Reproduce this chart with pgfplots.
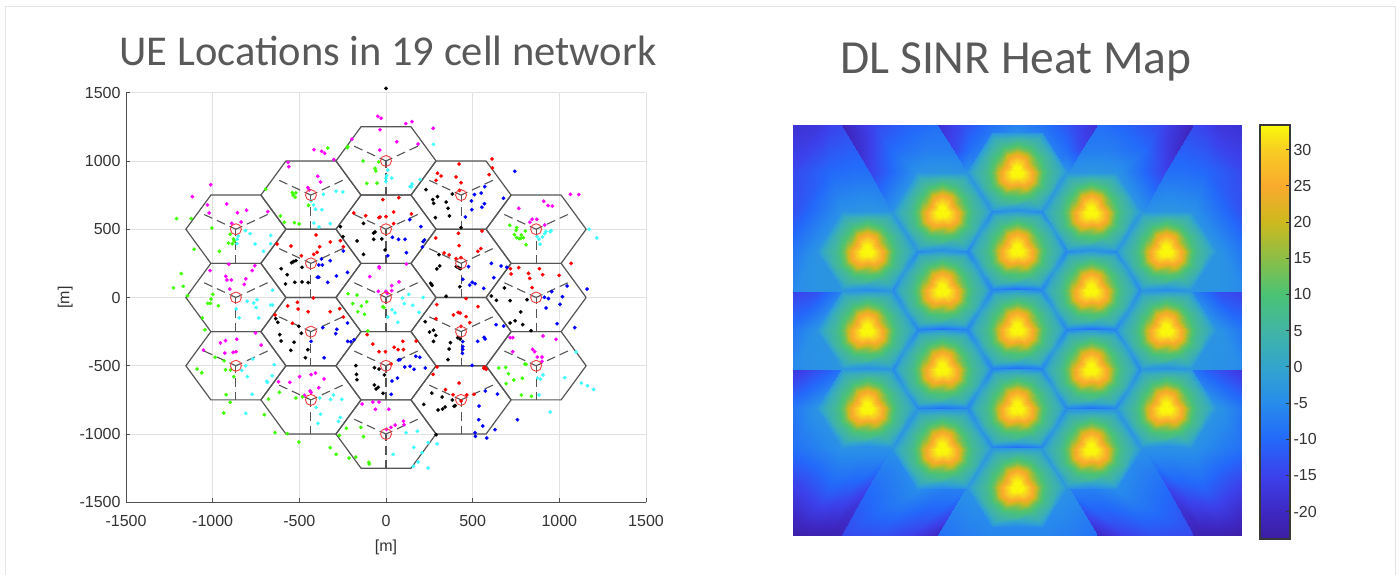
\documentclass[border=0pt]{standalone}
\usepackage{pgfplots}
\usepackage{pgfplotstable}
\usepackage{fontspec}
\setmainfont{Liberation Sans}
\newfontfamily\titlefont{Carlito}
\pgfplotsset{compat=1.18}
\definecolor{titlegray}{HTML}{595959}
\definecolor{tickgray}{HTML}{333333}
\definecolor{axgray}{HTML}{505050}
\definecolor{gridgray}{HTML}{E2E2E2}
\definecolor{hexgray}{HTML}{555555}
\definecolor{uegreen}{RGB}{64,255,0}
\definecolor{uecyan}{RGB}{64,255,255}
\definecolor{uemag}{RGB}{255,0,255}
\definecolor{bsred}{RGB}{240,60,60}
\pgfplotsset{colormap={sinr}{
rgb255(0cm)=(60,30,160); rgb255(3.8cm)=(62,40,195); rgb255(8.8cm)=(60,65,235);
rgb255(13.8cm)=(35,105,250); rgb255(18.8cm)=(40,140,235); rgb255(23.8cm)=(50,165,205);
rgb255(28.8cm)=(65,180,165); rgb255(33.8cm)=(75,195,115); rgb255(38.8cm)=(140,190,70);
rgb255(43.8cm)=(205,185,30); rgb255(48.8cm)=(250,170,45); rgb255(53.8cm)=(248,205,35);
rgb255(57.2cm)=(250,250,10)}}
\pgfplotstableread{
x y
288.7 0
144.3 250
-144.3 250
-288.7 0
-144.3 -250
144.3 -250
288.7 0
}\hextab
\pgfplotstableread{
x y
0 0
-190 112
}\secA
\pgfplotstableread{
x y
0 0
190 112
}\secB
\pgfplotstableread{
x y
0 0
0 -250
}\secC
\pgfplotstableread{
x y
0 0
0 500
0 1000
0 -500
0 -1000
433 250
433 750
433 -250
433 -750
-433 250
-433 750
-433 -250
-433 -750
866 0
866 500
866 -500
-866 0
-866 500
-866 -500
}\bstab
\pgfplotstableread{
x y c p
0 0 33.4 33.4
0 0 33.4 33.4
0 0 33.4 33.4
0 0 33.4 33.4
0 0 33.4 33.4
0 0 33.4 33.4
0 0 33.4 33.4
0 0 33.4 33.4
0 0 33.4 33.4
0 0 33.4 33.4
0 0 33.4 33.4
0 0 33.4 33.4
0 0 33.4 33.4
6 0 33 33
5.2 3 32 32
3 5.2 33 33
0 6 33 33
-3 5.2 33 33
-5.2 3 32 32
-6 0 33 33
-5.2 -3 33 33
-3 -5.2 33 33
0 -6 32 32
3 -5.2 33 33
5.2 -3 33 33
6 0 33 33
12 0 29 29
10.4 6 25.5 25.5
6 10.4 29 29
0 12 30 30
-6 10.4 29 29
-10.4 6 25.5 25.5
-12 0 29 29
-10.4 -6 30 30
-6 -10.4 29 29
0 -12 25.5 25.5
6 -10.4 29 29
10.4 -6 30 30
12 0 29 29
18 0 21.5 21.5
15.6 9 15.5 15.5
9 15.6 21.5 21.5
0 18 23.5 23.5
-9 15.6 21.5 21.5
-15.6 9 15.5 15.5
-18 0 21.5 21.5
-15.6 -9 23.5 23.5
-9 -15.6 21.5 21.5
0 -18 15.5 15.5
9 -15.6 21.5 21.5
15.6 -9 23.5 23.5
18 0 21.5 21.5
24 0 12.5 12.5
20.8 12 10.5 10.5
12 20.8 12.5 12.5
0 24 13.5 13.5
-12 20.8 12.5 12.5
-20.8 12 10.5 10.5
-24 0 12.5 12.5
-20.8 -12 13.5 13.5
-12 -20.8 12.5 12.5
0 -24 10.5 10.5
12 -20.8 12.5 12.5
20.8 -12 13.5 13.5
24 0 12.5 12.5
30 0 7.5 7.5
26 15 7 7
15 26 7.5 7.5
0 30 8 8
-15 26 7.5 7.5
-26 15 7 7
-30 0 7.5 7.5
-26 -15 8 8
-15 -26 7.5 7.5
0 -30 7 7
15 -26 7.5 7.5
26 -15 8 8
30 0 7.5 7.5
43.3 0 2 2
32.5 17.1 3 3
21.7 34.3 2 2
0 34.3 4 4
-21.7 34.3 2 2
-32.5 17.1 3 3
-43.3 0 2 2
-32.5 -17.1 4.5 4.5
-21.7 -34.3 2 2
0 -34.3 0 0
21.7 -34.3 2 2
32.5 -17.1 4.5 4.5
43.3 0 2 2
49.8 0 -6 -3
37.35 19.7 -2 -2.5
24.9 39.4 -6 -3
0 39.4 -2 -2.5
-24.9 39.4 -6 -3
-37.35 19.7 -2 -2.5
-49.8 0 -6 -3
-37.35 -19.7 -2 -2.5
-24.9 -39.4 -6 -3
0 -39.4 -9 -5
24.9 -39.4 -6 -3
37.35 -19.7 -2 -2.5
49.8 0 -6 -3
}\tiletab
\pgfplotstableread{
x y c
793 125 -18
817 125 -17
830 125 -15
842 125 -14
793 172 -14
830 172 -10
855 172 -9
870 172 -9
793 212 -13
842 212 -4
867 212 -3
892 212 -4
793 251 -8
817 251 -3.5
867 251 -3
917 251 -3
793 291.5 -5
817 291.5 -3.5
867 291.5 -3
917 291.5 -3
}\bga
\pgfplotstableread{
x y c
842 125 -21
875 125 -14
905 125 -11
938 125 -9
857 150 -19
890 150 -10
925 150 -7
953.5 150 -7
870 172 -15
917 172 -4
942 172 -3
967 172 -4
892 212 -4
917 212 -4
950 212 -3
992 212 -3
917 251 -3
940 251 -3
970 251 -3
992 251 -3
}\bgb
\pgfplotstableread{
x y c
938 125 -18
965 125 -13
990 125 -9
1017.25 125 -6
953.5 150 -14
970 150 -9
990 150 -5
1017.25 150 -3
967 172 -4
980 172 -4
1000 172 -3
1017.25 172 -3
992 212 -3
1000 212 -3
1010 212 -3
1017.25 212 -3
}\bgc
\pgfplotstableread{
x y c
793 291.5 -15
817 291.5 -13
842 291.5 -6
870 291.5 -3
793 330 -8
817 330 -3.5
842 330 -3
870 330 -3
793 369.5 -5
817 369.5 -4
842 369.5 -3
870 369.5 -3
}\bgd
\pgfplotstableread{
x y c
793 369.5 -17
830 369.5 -11
860 369.5 -4
905 369.5 -3
793 408 -8
817 408 -3.5
867 408 -3
917 408 -3
793 448 -9
842 448 -4
867 448 -4
892 448 -4
793 490 -16
830 490 -11
850 490 -12
867 490 -15
793 535 -23
815 535 -22
830 535 -22
842 535 -21
}\bge
\pgfplotstableread{
x y c
917 408 -3
942 408 -3
967 408 -3
992 408 -3
892 448 -4
917 448 -3
960 448 -3
988 448 -4
867 490 -10
917 490 -5
942 490 -7
964.5 490 -7
842 535 -14
880 535 -13
910 535 -15
938 535 -20
}\bgf
\pgfplotstableread{
x y c
992 408 -3
1000 408 -3
1010 408 -3
1017.25 408 -3
988 448 -4
1000 448 -3
1010 448 -3
1017.25 448 -3
964.5 490 -4
985 490 -3
1000 490 -3
1017.25 490 -3
938 535 -9
965 535 -7
990 535 -6
1017.25 535 -6
}\bgg
\newcommand\cellat[2]{%
\addplot[hexgray,line width=1.2pt,forget plot] table[x expr=#1+\thisrow{x},y expr=#2+\thisrow{y}] {\hextab};
\addplot[hexgray,line width=1.1pt,dash pattern=on 7pt off 5pt on 9pt off 5pt on 9pt off 4pt,forget plot] table[x expr=#1+\thisrow{x},y expr=#2+\thisrow{y}] {\secA};
\addplot[hexgray,line width=1.1pt,dash pattern=on 7pt off 5pt on 9pt off 5pt on 9pt off 4pt,forget plot] table[x expr=#1+\thisrow{x},y expr=#2+\thisrow{y}] {\secB};
\addplot[hexgray,line width=1.1pt,dash pattern=on 7pt off 5pt on 9pt off 5pt on 9pt off 4pt,forget plot] table[x expr=#1+\thisrow{x},y expr=#2+\thisrow{y}] {\secC};
}
\newcommand\tile[3]{%
\addplot[surf,shader=interp,mesh/cols=13,point meta=\thisrow{#3},forget plot] table[x expr=#1+\thisrow{x},y expr=#2-\thisrow{y}] {\tiletab};
}
\newcommand\bgpart[1]{%
\addplot[surf,shader=interp,mesh/cols=4,point meta=\thisrow{c},forget plot] table[x=x,y=y] {#1};
\addplot[surf,shader=interp,mesh/cols=4,point meta=\thisrow{c},forget plot] table[x expr=2034.5-\thisrow{x},y=y] {#1};
}
\pgfplotsset{ue/.style={only marks,color=#1,mark=*,mark size=1.8pt,mark options={solid,draw=#1,fill=#1,line width=0.2pt},forget plot}}
\begin{document}
\begin{tikzpicture}[x=1pt,y=1pt]
\path[use as bounding box] (0pt,0pt) rectangle (1399pt,575pt);
\draw[color=gray!20,line width=0.8pt] (5pt,569pt) -- (1395pt,569pt);
\draw[color=gray!20,line width=0.8pt] (5pt,569pt) -- (5pt,0pt);
\draw[color=gray!20,line width=0.8pt] (1395pt,569pt) -- (1395pt,0pt);
\node[font=\titlefont\fontsize{42.5}{48}\selectfont,text=titlegray,anchor=base] at (388pt,509pt) {UE Locations in 19 cell network};
\node[font=\titlefont\fontsize{47.5}{54}\selectfont,text=titlegray,anchor=base] at (1016pt,501pt) {DL SINR Heat Map};
\begin{axis}[
  at={(126pt,72.7pt)},anchor=south west,scale only axis,width=520pt,height=409.6pt,
  xmin=-1500,xmax=1500,ymin=-1500,ymax=1500,clip=false,
  axis x line*=bottom,axis y line*=left,
  axis line style={axgray,line width=1pt,-},
  xtick={-1500,-1000,-500,0,500,1000,1500},
  ytick={-1500,-1000,-500,0,500,1000,1500},
  xticklabels={-1500,-1000,-500,0,500,1000,1500},
  yticklabels={-1500,-1000,-500,0,500,1000,1500},
  grid=major,grid style={gridgray,line width=0.9pt},
  tick align=inside,major tick length=4pt,
  tick style={axgray,line width=0.8pt},
  ticklabel style={font=\fontsize{16}{19}\selectfont,text=tickgray},
  xticklabel style={yshift=-9pt},
  yticklabel style={xshift=-2pt},
  xlabel={[m]},ylabel={[m]},
  label style={font=\fontsize{16}{19}\selectfont,text=tickgray},
  xlabel style={yshift=-7pt},
  ylabel style={yshift=0pt},
]
\cellat{0}{0}\cellat{0}{500}\cellat{0}{1000}\cellat{0}{-500}\cellat{0}{-1000}
\cellat{433}{250}\cellat{433}{750}\cellat{433}{-250}\cellat{433}{-750}
\cellat{-433}{250}\cellat{-433}{750}\cellat{-433}{-250}\cellat{-433}{-750}
\cellat{866}{0}\cellat{866}{500}\cellat{866}{-500}
\cellat{-866}{0}\cellat{-866}{500}\cellat{-866}{-500}
\addplot[ue=uemag] coordinates {
(-47,1327)(-28,1313)(-34,1229)(62,1141)(-197,1159)(-36,1080)(-415,1083)(-371,1071)(-354,1056)(-301,1010)(-565,990)(-561,958)(-394,888)(-378,846)(-451,805)(-443,788)(-1011,826)(-1117,739)(-1030,678)(-919,685)(-1020,619)(-805,639)(-857,621)(-682,629)(-890,543)(-836,553)(-907,243)(-757,233)(-1015,197)(-924,155)(-918,128)(-892,128)(-809,136)(-772,197)(-818,96)(-901,62)(-40,226)(-38,216)(-94,153)(33,87)(75,114)(-44,45)(0,45)(33,50)(8,30)
(114,1274)(150,1288)(272,1239)(185,1124)(1064,756)(1112,754)(910,705)(935,673)(960,670)(766,653)(843,573)(830,551)(870,573)(916,531)(118,245)
(-753,-260)(-955,-333)(-926,-316)(-861,-306)(-720,-348)(-930,-407)(-882,-402)(-865,-397)(-1053,-385)(-620,-617)(-555,-621)(-499,-580)(-432,-565)(-407,-553)(-357,-597)(-388,-661)(-438,-685)(-432,-695)(-470,-717)(-138,-780)(-76,-766)(-40,-766)(-61,-819)(16,-819)(3,-966)(29,-951)(53,-934)
(716,-294)(731,-294)(906,-282)(981,-306)(731,-397)(846,-380)(858,-397)(873,-436)(900,-436)(900,-468)(101,-905)(104,-932)
};
\addplot[ue=uecyan] coordinates {
(10,934)(4,892)(0,873)(0,849)(33,875)(-288,778)(-249,773)(-361,756)(-432,707)(-418,678)(-407,646)(-370,643)(-416,546)(-386,516)(-322,541)(-811,490)(-784,468)(-853,450)(-859,426)(-860,394)(-755,392)(-665,455)(-665,394)(-707,338)(-655,53)
(274,1122)(197,864)(151,832)(139,812)(147,812)(1172,500)(1216,436)(953,490)(947,482)(922,484)(916,468)(903,443)(883,426)(872,446)(889,390)(131,23)(214,1)(95,-4)
(-801,-28)(-763,-40)(-744,-16)(-749,-74)(-864,-84)(-847,-150)(-734,-150)(-655,-55)(-666,-55)(10,-143)(35,-89)(52,-113)(68,-182)(-832,-534)(-809,-499)(-800,-580)(-769,-450)(-645,-492)(-657,-573)(-688,-614)(-684,-621)(-772,-709)(-809,-848)(-303,-714)(-382,-736)(-320,-746)(-255,-746)(-403,-805)(-378,-854)(-392,-922)(-263,-878)(-274,-907)(41,-1149)
(106,-45)(154,-57)(191,-109)(1097,-399)(874,-590)(891,-597)(906,-568)(1031,-587)(1127,-626)(1162,-646)(1198,-673)(883,-714)(947,-839)(116,-990)(181,-980)(243,-1063)(295,-1071)(160,-1098)(208,-1137)(185,-1205)(158,-1237)(243,-1249)
};
\addplot[ue=uegreen] coordinates {
(-221,1105)(-224,1097)(-336,1095)(-132,1000)(-42,993)(-63,946)(-59,927)(-111,836)(-52,838)(-694,793)(-540,768)(-520,766)(-536,751)(-524,734)(-447,675)(-609,597)(-586,551)(-528,548)(-501,539)(-1208,578)(-1124,578)(-1005,509)(-899,463)(-880,429)(-876,414)(-909,399)(-886,394)(-1107,353)(-961,338)(-1181,175)(-1170,82)(-1226,70)(-1145,13)(-999,23)(-1009,-11)(-219,28)(-167,18)
(714,529)(754,512)(751,492)(804,487)(741,460)(781,458)(793,438)(754,438)(768,431)(777,433)(808,387)
(-1013,-43)(-1028,-43)(-967,-60)(-1059,-150)(-1045,-236)(-192,-45)(-142,-62)(-111,-31)(-163,-104)(-124,-123)(-19,-67)(-11,-74)(-105,-245)(-986,-438)(-934,-463)(-1090,-524)(-1063,-551)(-926,-529)(-897,-531)(-878,-580)(-922,-712)(-899,-768)(-936,-846)(-702,-858)(-678,-744)(-615,-695)(-520,-736)(-482,-727)(-640,-990)(-570,-997)(-503,-1059)(-269,-1010)(-228,-958)(-145,-951)(-130,-1019)(-322,-1100)(-288,-1149)(-213,-1176)(-174,-1169)(-99,-1207)(-96,-1220)
(650,-516)(691,-512)(801,-487)(808,-490)(706,-558)(737,-604)(787,-592)(693,-631)(781,-714)(839,-724)
};
\addplot[ue=red] coordinates {
(-18,717)(74,731)(-186,619)(-117,599)(-41,585)(-34,590)(0,592)(44,626)(44,541)(-403,458)(-628,392)(-548,377)(-488,306)(-417,316)(-398,331)(-383,372)(-321,407)(-263,416)(-246,372)(-419,-4)
(422,978)(612,1015)(614,949)(297,910)(318,890)(289,858)(404,883)(433,841)(595,900)(424,785)(147,612)(287,436)(418,470)(554,487)(422,380)(547,358)(530,338)(335,326)(364,311)(404,285)(433,292)(718,211)(766,219)(885,211)(822,177)(829,140)(904,167)(999,162)(722,172)(1068,250)(843,72)(462,-8)
(-567,-62)(-511,-35)(-507,-84)(-449,-104)(-322,-104)(-267,-82)(-246,-143)(-640,-128)(-540,-189)(-109,-272)(-76,-341)(-40,-397)(-3,-397)(47,-365)(29,-487)
(293,-52)(531,-67)(389,-128)(416,-109)(428,-114)(462,-140)(483,-184)(289,-155)(433,-211)(97,-321)(174,-319)(70,-382)(101,-382)(295,-509)(272,-563)(422,-626)(343,-675)(387,-712)(466,-714)(508,-709)(572,-514)(566,-510)(578,-526)(565,-520)(433,-758)
};
\addplot[ue=black] coordinates {
(0,1532)(-263,519)(-248,446)(-130,543)(-72,472)(-63,480)(-167,414)(-71,426)(-24,429)(-5,348)(-130,316)(-545,255)(-534,263)(-520,270)(-484,221)(-605,211)(-570,167)(-580,99)(-526,111)(-484,114)(-449,109)
(231,790)(383,758)(297,739)(270,717)(275,690)(347,699)(358,653)(285,585)(366,597)(433,512)(306,314)(310,231)(293,209)(406,226)(418,219)(428,211)(258,104)(266,89)(426,79)(347,9)(683,70)(608,11)
(-636,-155)(-624,-182)(-503,-211)(-488,-262)(-613,-272)(-605,-319)(-530,-328)(-549,-387)(-451,-382)(-465,-441)(-174,-499)(-67,-514)(-40,-524)(-170,-563)(-168,-602)(-9,-567)(-67,-641)(-45,-658)(-57,-670)(-17,-702)
(637,-21)(716,-23)(814,-16)(777,-106)(789,-199)(716,-187)(745,-170)(837,-243)(226,-177)(251,-253)(274,-240)(287,-277)(274,-321)(372,-331)(364,-377)(358,-455)(414,-294)(428,-304)(218,-783)(264,-700)(324,-729)(383,-751)(399,-792)(393,-797)(301,-824)(326,-817)(341,-802)(289,-1005)
};
\addplot[ue=blue] coordinates {
(37,441)(72,426)(-246,341)(10,306)(-372,282)(-388,238)(-367,238)(-322,270)(-222,184)(-396,148)(-388,148)(-286,158)(-336,111)
(743,924)(570,812)(510,754)(549,765)(493,707)(678,727)(568,687)(553,661)(495,643)(458,590)(137,570)(201,519)(110,426)(222,421)(214,409)(210,370)(118,328)(608,250)(664,231)(697,221)(476,226)(622,145)(443,133)(497,111)(514,101)(483,91)(564,67)(1160,62)(1045,84)(956,43)(1018,6)(914,1)(937,-8)
(-365,-221)(-284,-233)(-290,-265)(-222,-187)(-432,-321)(-221,-321)(-203,-324)(-184,-309)(-357,-441)(34,-612)(66,-590)(30,-709)(72,-458)
(1004,-50)(924,-77)(987,-192)(1089,-221)(635,-199)(679,-209)(529,-321)(566,-292)(572,-304)(443,-323)(443,-360)(443,-380)(441,-409)(497,-497)(81,-455)(172,-431)(195,-438)(108,-509)(139,-504)(162,-526)(227,-516)(573,-685)(643,-707)(537,-795)(535,-895)(558,-941)(629,-968)(514,-990)(516,-1017)(581,-1029)(758,-895)
};
\addplot[only marks,color=bsred,mark=o,mark size=5.5pt,mark options={solid,draw=bsred,line width=0.9pt,fill=none},forget plot] table[x=x,y=y] {\bstab};
\end{axis}
\begin{axis}[
  at={(793pt,40pt)},anchor=south west,scale only axis,width=448.5pt,height=410pt,
  xmin=793,xmax=1241.5,ymin=125,ymax=535,y dir=reverse,hide axis,
  colormap name=sinr,point meta min=-23.8,point meta max=33.4,
]
\bgpart{\bga}\bgpart{\bgb}\bgpart{\bgc}\bgpart{\bgd}\bgpart{\bge}\bgpart{\bgf}\bgpart{\bgg}
\tile{867}{251}{p}\tile{867}{330}{p}\tile{867}{408}{p}
\tile{942}{212}{p}\tile{942}{449}{p}
\tile{1017}{172}{p}\tile{1017}{487}{p}
\tile{1091}{212}{p}\tile{1091}{449}{p}
\tile{1166}{251}{p}\tile{1166}{330}{p}\tile{1166}{408}{p}
\tile{942}{290}{c}\tile{942}{369}{c}
\tile{1017}{250}{c}\tile{1017}{329}{c}\tile{1017}{408}{c}
\tile{1091}{290}{c}\tile{1091}{369}{c}
\end{axis}
\begin{axis}[
  at={(1260pt,35.7pt)},anchor=south west,scale only axis,width=30pt,height=414.3pt,
  xmin=0,xmax=1,ymin=-23.8,ymax=33.4,
  colormap name=sinr,point meta min=-23.8,point meta max=33.4,
  xtick=\empty,ytick={-20,-15,-10,-5,0,5,10,15,20,25,30},
  yticklabels={-20,-15,-10,-5,0,5,10,15,20,25,30},
  yticklabel pos=right,
  tick align=inside,major tick length=4.5pt,
  tick style={black!80,line width=1pt},
  ytick pos=right,
  ticklabel style={font=\fontsize{16}{19}\selectfont,text=tickgray},
  axis on top,
  axis line style={black!78,line width=2.4pt},
]
\addplot[surf,shader=interp,mesh/cols=2,point meta=\thisrow{v},forget plot] table {
x y v
0 -23.8 -23.8
1 -23.8 -23.8
0 -20 -20
1 -20 -20
0 -15 -15
1 -15 -15
0 -10 -10
1 -10 -10
0 -5 -5
1 -5 -5
0 0 0
1 0 0
0 5 5
1 5 5
0 10 10
1 10 10
0 15 15
1 15 15
0 20 20
1 20 20
0 25 25
1 25 25
0 30 30
1 30 30
0 33.4 33.4
1 33.4 33.4
};
\end{axis}
\end{tikzpicture}
\end{document}
